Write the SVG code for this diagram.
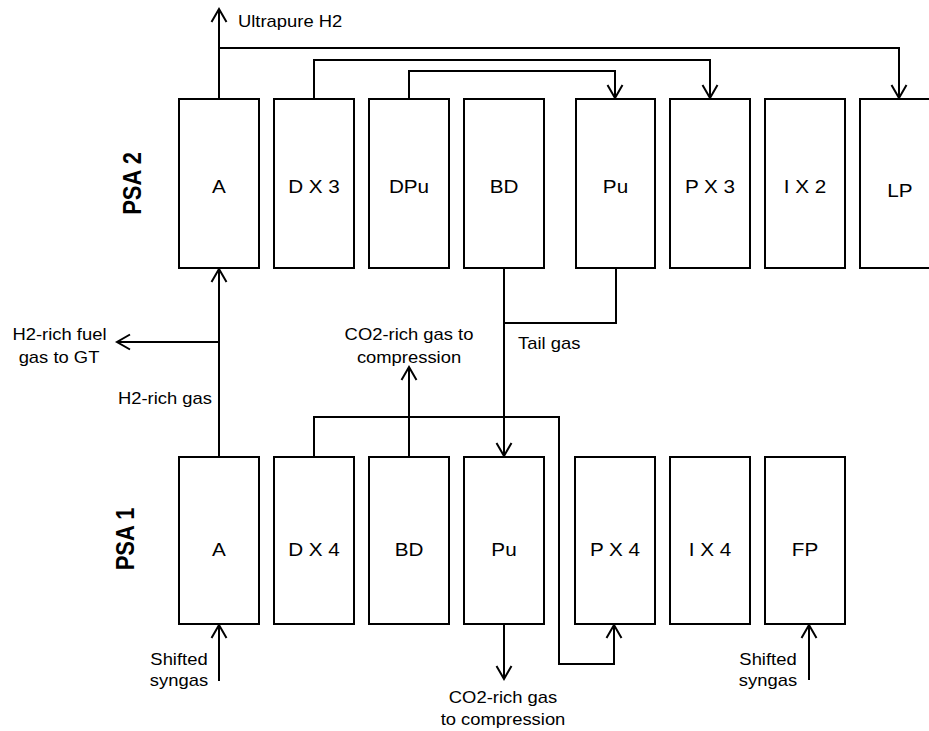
<svg xmlns="http://www.w3.org/2000/svg" width="929" height="731" viewBox="0 0 929 731">
<style>
.box{fill:#fff;stroke:#000;stroke-width:2}
.ln{fill:none;stroke:#000;stroke-width:2}
.t{font-family:"Liberation Sans",Arial,sans-serif;font-size:16px;fill:#000}
.bl{font-family:"Liberation Sans",Arial,sans-serif;font-size:18px;fill:#000;text-anchor:middle}
.psa{font-family:"Liberation Sans",Arial,sans-serif;font-size:22px;font-weight:bold;fill:#000;text-anchor:middle}
.m{text-anchor:middle}
</style>
<defs>
<marker id="arr" markerUnits="userSpaceOnUse" orient="auto" markerWidth="20" markerHeight="20" refX="0" refY="0" viewBox="-15 -10 20 20" overflow="visible">
<path d="M-13,-7.5 L0,0 L-13,7.5" fill="none" stroke="#000" stroke-width="2"/>
</marker>
</defs>
<rect width="929" height="731" fill="#fff"/>
<text class="psa" transform="translate(141,183.5) scale(1.15,1) rotate(-90)">PSA 2</text>
<text class="psa" transform="translate(134,539) scale(1.15,1) rotate(-90)">PSA 1</text>
<g id="psa2-A"><rect class="box" x="179" y="99" width="80" height="169"/><text class="bl" transform="translate(219,193) scale(1.15,1)">A</text></g>
<g id="psa2-DX3"><rect class="box" x="274" y="99" width="80" height="169"/><text class="bl" transform="translate(314,193) scale(1.15,1)">D X 3</text></g>
<g id="psa2-DPu"><rect class="box" x="369" y="99" width="80" height="169"/><text class="bl" transform="translate(409,193) scale(1.15,1)">DPu</text></g>
<g id="psa2-BD"><rect class="box" x="464" y="99" width="80" height="169"/><text class="bl" transform="translate(504,193) scale(1.15,1)">BD</text></g>
<g id="psa2-Pu"><rect class="box" x="576" y="99" width="79" height="169"/><text class="bl" transform="translate(615.5,193) scale(1.15,1)">Pu</text></g>
<g id="psa2-PX3"><rect class="box" x="670" y="99" width="80" height="169"/><text class="bl" transform="translate(710,193) scale(1.15,1)">P X 3</text></g>
<g id="psa2-IX2"><rect class="box" x="765" y="99" width="80" height="169"/><text class="bl" transform="translate(805,193) scale(1.15,1)">I X 2</text></g>
<g id="psa2-LP"><rect class="box" x="860" y="99" width="80" height="169"/><text class="bl" transform="translate(900,197) scale(1.15,1)">LP</text></g>
<g id="psa1-A"><rect class="box" x="179" y="457" width="80" height="167"/><text class="bl" transform="translate(219,556) scale(1.15,1)">A</text></g>
<g id="psa1-DX4"><rect class="box" x="274" y="457" width="80" height="167"/><text class="bl" transform="translate(314,556) scale(1.15,1)">D X 4</text></g>
<g id="psa1-BD"><rect class="box" x="369" y="457" width="80" height="167"/><text class="bl" transform="translate(409,556) scale(1.15,1)">BD</text></g>
<g id="psa1-Pu"><rect class="box" x="464" y="457" width="80" height="167"/><text class="bl" transform="translate(504,556) scale(1.15,1)">Pu</text></g>
<g id="psa1-PX4"><rect class="box" x="575" y="457" width="80" height="167"/><text class="bl" transform="translate(615,556) scale(1.15,1)">P X 4</text></g>
<g id="psa1-IX4"><rect class="box" x="670" y="457" width="80" height="167"/><text class="bl" transform="translate(710,556) scale(1.15,1)">I X 4</text></g>
<g id="psa1-FP"><rect class="box" x="765" y="457" width="80" height="167"/><text class="bl" transform="translate(805,556) scale(1.15,1)">FP</text></g>
<g id="connectors">
<path class="ln" d="M219,99 V9" marker-end="url(#arr)"/>
<path class="ln" d="M219,48 H899 V98" marker-end="url(#arr)"/>
<path class="ln" d="M314,99 V60 H710 V98" marker-end="url(#arr)"/>
<path class="ln" d="M409,99 V71 H615 V98" marker-end="url(#arr)"/>
<path class="ln" d="M219,457 V269" marker-end="url(#arr)"/>
<path class="ln" d="M219,342 H117" marker-end="url(#arr)"/>
<path class="ln" d="M504,268 V456" marker-end="url(#arr)"/>
<path class="ln" d="M616,268 V323 H504"/>
<path class="ln" d="M409,457 V367" marker-end="url(#arr)"/>
<path class="ln" d="M314,457 V417 H559 V664 H614 V625" marker-end="url(#arr)"/>
<path class="ln" d="M504,624 V679" marker-end="url(#arr)"/>
<path class="ln" d="M219,681 V625" marker-end="url(#arr)"/>
<path class="ln" d="M809,680 V625" marker-end="url(#arr)"/>
</g>
<g id="labels">
<text class="t" transform="translate(238,27) scale(1.15,1)">Ultrapure H2</text>
<text class="t m" transform="translate(59.5,340) scale(1.15,1)">H2-rich fuel</text>
<text class="t m" transform="translate(59,363) scale(1.15,1)">gas to GT</text>
<text class="t m" transform="translate(165,404) scale(1.15,1)">H2-rich gas</text>
<text class="t m" transform="translate(409,340) scale(1.15,1)">CO2-rich gas to</text>
<text class="t m" transform="translate(409,363) scale(1.15,1)">compression</text>
<text class="t" transform="translate(518,349) scale(1.15,1)">Tail gas</text>
<text class="t m" transform="translate(503,703) scale(1.15,1)">CO2-rich gas</text>
<text class="t m" transform="translate(503,725) scale(1.15,1)">to compression</text>
<text class="t m" transform="translate(179,665) scale(1.15,1)">Shifted</text>
<text class="t m" transform="translate(179,686) scale(1.15,1)">syngas</text>
<text class="t m" transform="translate(768,665) scale(1.15,1)">Shifted</text>
<text class="t m" transform="translate(768,686) scale(1.15,1)">syngas</text>
</g>
</svg>
